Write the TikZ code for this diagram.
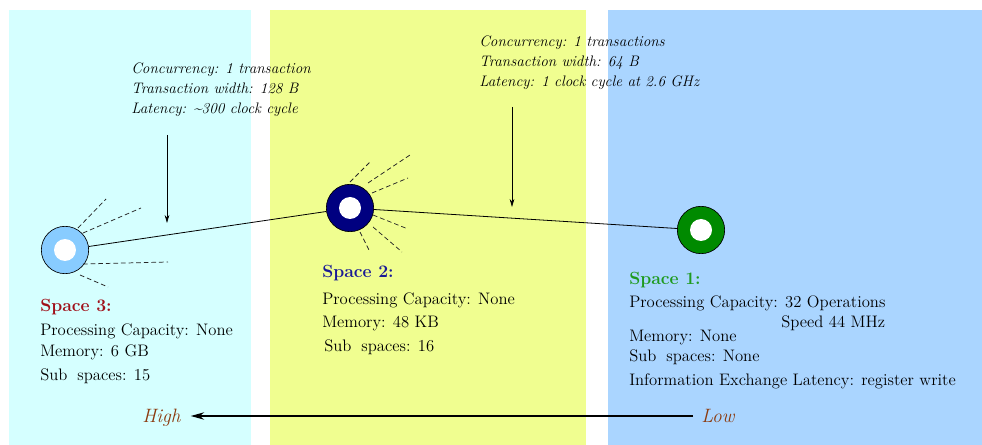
\documentclass[tikz,border=0pt]{standalone}
\usetikzlibrary{arrows.meta,calc}
\definecolor{bgcyan}{HTML}{D5FFFF}
\definecolor{bgyellow}{HTML}{F0FE90}
\definecolor{bgblue}{HTML}{AAD5FF}
\definecolor{sred}{HTML}{A0101A}
\definecolor{sblue}{HTML}{1A1A96}
\definecolor{sgreen}{HTML}{1E9A1E}
\definecolor{brownlbl}{HTML}{8B3A0E}
\definecolor{cfillthree}{HTML}{88CCFF}
\definecolor{cfilltwo}{HTML}{000080}
\definecolor{cfillone}{HTML}{008A00}
\tikzset{
  txt/.style={anchor=base west, inner sep=0pt, font=\fontsize{12.5}{14}\selectfont},
  note/.style={anchor=base west, inner sep=0pt, font=\fontsize{11.4}{13}\selectfont\itshape},
  ttl/.style={anchor=base west, inner sep=0pt, font=\fontsize{13.2}{16}\selectfont\bfseries},
  lvl/.style={anchor=base west, inner sep=0pt, text=brownlbl, font=\fontsize{14.5}{17}\selectfont\itshape},
  ray/.style={draw=black!85, line width=0.55pt, dash pattern=on 3.5pt off 2.2pt},
  spacenode/.style={circle, draw=black, line width=0.5pt, minimum size=35.5pt, inner sep=0pt,
    path picture={\fill[white] (path picture bounding box.center) circle (8.25pt);}},
  pointer/.style={-{Stealth[length=6pt,width=3.5pt]}, line width=0.6pt},
}
\begin{document}
\begin{tikzpicture}[x=0.75pt,y=-0.75pt]
\useasboundingbox (0,0) rectangle (982,445);
\fill[white] (0,0) rectangle (982,445);
% background panels
\fill[bgcyan] (9,10) rectangle (251,445);
\fill[bgyellow] (270,10) rectangle (586,445);
\fill[bgblue] (608,10) rectangle (982,445);

% space circles
\node[spacenode, fill=cfillthree] (s3) at (65,250) {};
\node[spacenode, fill=cfilltwo] (s2) at (350,208) {};
\node[spacenode, fill=cfillone] (s1) at (701,230) {};

% connectors
\draw[line width=0.6pt] (s3) -- (s2);
\draw[line width=0.6pt] (s2) -- (s1);

% rays space 3
\draw[ray] ($(s3)+(13,-22)$) -- ($(s3)+(41,-51)$);
\draw[ray] ($(s3)+(18,-17)$) -- ($(s3)+(76,-42)$);
\draw[ray] ($(s3)+(18,14)$) -- ($(s3)+(103,12)$);
\draw[ray] ($(s3)+(15,25)$) -- ($(s3)+(43,37)$);
% rays space 2
\draw[ray] ($(s2)+(0,-26)$) -- ($(s2)+(20,-46)$);
\draw[ray] ($(s2)+(18,-25)$) -- ($(s2)+(60,-53)$);
\draw[ray] ($(s2)+(22,-15)$) -- ($(s2)+(58,-30)$);
\draw[ray] ($(s2)+(23,7)$) -- ($(s2)+(58,21)$);
\draw[ray] ($(s2)+(23,19)$) -- ($(s2)+(52,44)$);
\draw[ray] ($(s2)+(10,24)$) -- ($(s2)+(20,44)$);

% annotations
\node[note] (na1) at (131,74) {Concurrency: 1 transaction};
\node[note] (na2) at (131,94) {Transaction width: 128 B};
\node[note] (na3) at (131,114) {Latency: \textasciitilde300 clock cycle};
\node[note] (nb1) at (479,47) {Concurrency: 1 transactions};
\node[note] (nb2) at (479,67) {Transaction width: 64 B};
\node[note] (nb3) at (479,87) {Latency: 1 clock cycle at 2.6 GHz};

\coordinate (pa1) at (167,135);
\coordinate (pa2) at (167,223);
\coordinate (pb1) at (512,107);
\coordinate (pb2) at (512,207);
\draw[pointer] (pa1) -- (pa2);
\draw[pointer] (pb1) -- (pb2);

% space 3 text
\node[ttl, text=sred] (t3) at (40,312) {Space 3:};
\node[txt] (t3a) at (40,335) {Processing Capacity: None};
\node[txt] (t3b) at (40,357) {Memory: 6 GB};
\node[txt] (t3c) at (40,380) {Sub\hspace{0.6em}spaces: 15};

% space 2 text
\node[ttl, text=sblue] (t2) at (322,278) {Space 2:};
\node[txt] (t2a) at (322,305) {Processing Capacity: None};
\node[txt] (t2b) at (322,328) {Memory: 48 KB};
\node[txt] (t2c) at (324,352) {Sub\hspace{0.6em}spaces: 16};

% space 1 text
\node[ttl, text=sgreen] (t1) at (629,285) {Space 1:};
\node[txt] (t1a) at (629,308) {Processing Capacity: 32 Operations};
\node[txt] (t1s) at (781,328) {Speed 44 MHz};
\node[txt] (t1b) at (629,342) {Memory: None};
\node[txt] (t1c) at (629,362) {Sub\hspace{0.6em}spaces: None};
\node[txt] (t1d) at (629,385) {Information Exchange Latency: register write};

% high / low
\node[lvl] (high) at (142,422) {High};
\node[lvl] (low) at (701,422) {Low};
\draw[-{Stealth[length=10pt,width=5.5pt]}, line width=1.4pt]
  ($(low.base west)+(-8,-6)$) -- ($(high.base east)+(10,-6)$);
\end{tikzpicture}
\end{document}
